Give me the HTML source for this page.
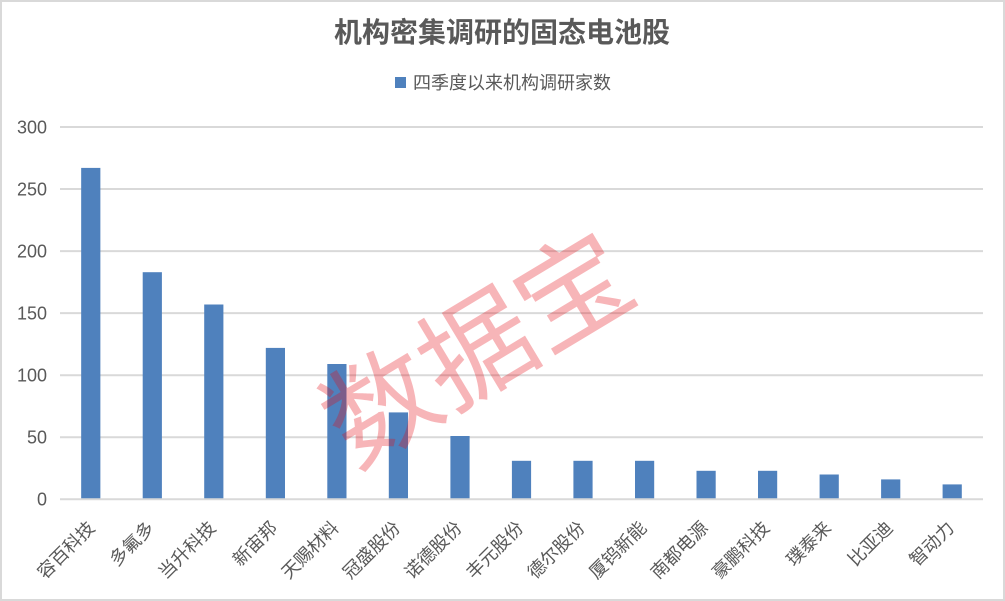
<!DOCTYPE html>
<html>
<head>
<meta charset="utf-8">
<style>
  html, body { margin: 0; padding: 0; background: #ffffff; }
  body { width: 1005px; height: 601px; overflow: hidden; }
  svg { display: block; }
</style>
</head>
<body>
<svg width="1005" height="601" viewBox="0 0 1005 601" xmlns="http://www.w3.org/2000/svg">
  <rect x="0" y="0" width="1005" height="601" fill="#ffffff"/>
  <rect x="1" y="1" width="1003" height="599" fill="none" stroke="#d9d9d9" stroke-width="2"/>

  <!-- Title -->
  <text x="502" y="42" text-anchor="middle" font-family="'Liberation Sans','Noto Sans CJK SC',sans-serif" font-size="28" font-weight="bold" fill="#595959">机构密集调研的固态电池股</text>

  <!-- Legend -->
  <rect x="395" y="77" width="11" height="11" fill="#4f81bd"/>
  <text x="413" y="89" font-family="'Liberation Sans','Noto Sans CJK SC',sans-serif" font-size="18" fill="#595959">四季度以来机构调研家数</text>

  <!-- Gridlines -->
  <g stroke="#d9d9d9" stroke-width="2">
    <line x1="60" y1="127" x2="983" y2="127"/>
    <line x1="60" y1="189.05" x2="983" y2="189.05"/>
    <line x1="60" y1="251.1" x2="983" y2="251.1"/>
    <line x1="60" y1="313.15" x2="983" y2="313.15"/>
    <line x1="60" y1="375.2" x2="983" y2="375.2"/>
    <line x1="60" y1="437.25" x2="983" y2="437.25"/>
  </g>

  <!-- Y tick labels -->
  <g font-family="'Liberation Sans',sans-serif" font-size="18" fill="#595959" text-anchor="end">
    <text x="47" y="133.4">300</text>
    <text x="47" y="195.4">250</text>
    <text x="47" y="257.5">200</text>
    <text x="47" y="319.5">150</text>
    <text x="47" y="381.6">100</text>
    <text x="47" y="443.6">50</text>
    <text x="47" y="505.7">0</text>
  </g>

  <!-- Bars -->
  <g fill="#4f81bd">
    <rect x="81.17" y="167.9" width="19.2" height="331.4"/>
    <rect x="142.7" y="272.2" width="19.2" height="227.1"/>
    <rect x="204.2" y="304.5" width="19.2" height="194.8"/>
    <rect x="265.8" y="347.9" width="19.2" height="151.4"/>
    <rect x="327.3" y="364.0" width="19.2" height="135.3"/>
    <rect x="388.8" y="412.4" width="19.2" height="86.9"/>
    <rect x="450.4" y="436.0" width="19.2" height="63.3"/>
    <rect x="511.9" y="460.8" width="19.2" height="38.5"/>
    <rect x="573.4" y="460.8" width="19.2" height="38.5"/>
    <rect x="635.0" y="460.8" width="19.2" height="38.5"/>
    <rect x="696.5" y="470.8" width="19.2" height="28.5"/>
    <rect x="758.0" y="470.8" width="19.2" height="28.5"/>
    <rect x="819.6" y="474.5" width="19.2" height="24.8"/>
    <rect x="881.1" y="479.4" width="19.2" height="19.9"/>
    <rect x="942.6" y="484.4" width="19.2" height="14.9"/>
  </g>

  <!-- Axis line -->
  <line x1="60" y1="499.3" x2="983" y2="499.3" stroke="#d9d9d9" stroke-width="2"/>

  <!-- X labels -->
  <g font-family="'Liberation Sans','Noto Sans CJK SC',sans-serif" font-size="18" fill="#595959" text-anchor="end">
    <text transform="translate(95.8,529) rotate(-45)">容百科技</text>
    <text transform="translate(155.3,529) rotate(-45)">多氟多</text>
    <text transform="translate(216.8,529) rotate(-45)">当升科技</text>
    <text transform="translate(278.4,529) rotate(-45)">新宙邦</text>
    <text transform="translate(339.9,529) rotate(-45)">天赐材料</text>
    <text transform="translate(401.4,529) rotate(-45)">冠盛股份</text>
    <text transform="translate(463.0,529) rotate(-45)">诺德股份</text>
    <text transform="translate(524.5,529) rotate(-45)">丰元股份</text>
    <text transform="translate(586.0,529) rotate(-45)">德尔股份</text>
    <text transform="translate(647.6,529) rotate(-45)">厦钨新能</text>
    <text transform="translate(709.1,529) rotate(-45)">南都电源</text>
    <text transform="translate(770.6,529) rotate(-45)">豪鹏科技</text>
    <text transform="translate(832.2,529) rotate(-45)">璞泰来</text>
    <text transform="translate(893.7,529) rotate(-45)">比亚迪</text>
    <text transform="translate(955.2,529) rotate(-45)">智动力</text>
  </g>

  <!-- Watermark -->
  <text transform="translate(473,342) rotate(-31)" text-anchor="middle" dominant-baseline="central" font-family="'Noto Sans CJK SC',sans-serif" font-size="112" fill="#e60a14" fill-opacity="0.3">数据宝</text>
</svg>
</body>
</html>
